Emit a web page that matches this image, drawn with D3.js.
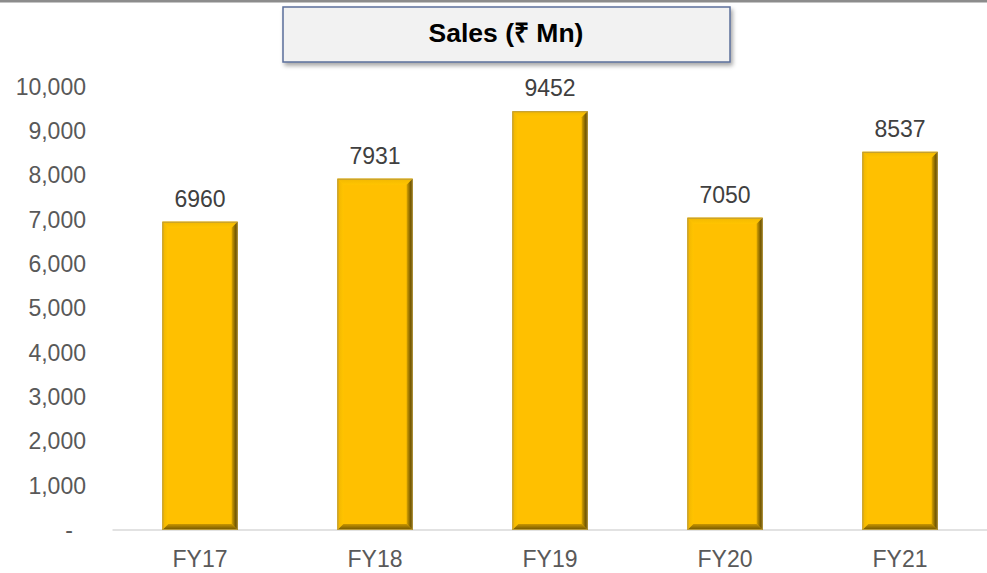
<!DOCTYPE html>
<html>
<head>
<meta charset="utf-8">
<script src="https://cdn.jsdelivr.net/npm/d3@7"></script>
<style>
  html, body { margin: 0; padding: 0; background: #ffffff; }
  svg { display: block; }
</style>
</head>
<body>
<svg id="chart" width="987" height="573"></svg>
<script>
// Annual sales, ₹ million
const categories = ["FY17", "FY18", "FY19", "FY20", "FY21"];
const sales = [6960, 7931, 9452, 7050, 8537];
const yTicks = [0, 1000, 2000, 3000, 4000, 5000, 6000, 7000, 8000, 9000, 10000];
const title = "Sales (₹ Mn)";

const svg = d3.select("#chart");
const W = 987, H = 573;
const plot = { left: 112.5, right: 987.5, top: 87, bottom: 530 };
const FONT = "Liberation Sans, Arial, sans-serif";

const x = d3.scaleBand()
  .domain(categories)
  .range([plot.left, plot.right])
  .paddingInner(0.57)
  .paddingOuter(0.285);

const y = d3.scaleLinear().domain([0, 10000]).range([plot.bottom, plot.top]);

const defs = svg.append("defs");
const grad = (id, x2, y2, stops) => {
  const g = defs.append("linearGradient").attr("id", id)
    .attr("x1", 0).attr("y1", 0).attr("x2", x2).attr("y2", y2);
  stops.forEach(([o, c]) => g.append("stop").attr("offset", o).attr("stop-color", c));
};
grad("bevRight", 1, 0, [[0, "#d9a400"], [0.5, "#8c6a00"], [1, "#4d3b00"]]);
grad("bevBottom", 0, 1, [[0, "#c99600"], [1, "#6e5300"]]);
grad("bevLeft", 1, 0, [[0, "#f0b400"], [1, "#ffc400"]]);
grad("bevTop", 0, 1, [[0, "#f2b800"], [1, "#ffc400"]]);

const shadow = defs.append("filter").attr("id", "boxShadow")
  .attr("x", "-5%").attr("y", "-20%").attr("width", "112%").attr("height", "150%");
shadow.append("feDropShadow").attr("dx", 2).attr("dy", 3).attr("stdDeviation", 2)
  .attr("flood-color", "#000").attr("flood-opacity", 0.35);

// top rule
svg.append("rect").attr("x", 0).attr("y", 0).attr("width", W).attr("height", 2.5)
  .attr("fill", "#8c8c8c");

// title box
svg.append("rect").attr("x", 283).attr("y", 7).attr("width", 447).attr("height", 55)
  .attr("fill", "#f2f2f2").attr("stroke", "#5b6f9a").attr("stroke-width", 1.5)
  .attr("filter", "url(#boxShadow)");
svg.append("text").attr("x", 506).attr("y", 42)
  .attr("text-anchor", "middle")
  .attr("font-family", FONT)
  .attr("font-weight", "bold").attr("font-size", 26.5).attr("fill", "#000")
  .text(title);

// y axis labels
const yAxis = d3.axisLeft(y).tickValues(yTicks)
  .tickFormat(d => d === 0 ? "-" : d3.format(",")(d)).tickSize(0).tickPadding(0);
const yg = svg.append("g").attr("transform", "translate(86,0)").call(yAxis);
yg.select(".domain").remove();
yg.selectAll("text")
  .attr("font-family", FONT)
  .attr("font-size", 23).attr("fill", "#595959");
yg.selectAll(".tick").filter(d => d === 0).select("text")
  .attr("text-anchor", "middle").attr("x", -17);

// x axis
const xAxis = d3.axisBottom(x).tickSize(0).tickPadding(0);
const xg = svg.append("g").attr("transform", `translate(0,${plot.bottom})`).call(xAxis);
xg.select(".domain").attr("stroke", "#d9d9d9").attr("stroke-width", 1.5)
  .attr("d", `M${plot.left},0H${W}`);
xg.selectAll("text")
  .attr("font-family", FONT)
  .attr("font-size", 23).attr("fill", "#595959")
  .attr("y", 37).attr("dy", 0);

// bars with bevelled edges
const b = 6;
const bars = svg.append("g").selectAll("g").data(categories.map((c, i) => ({ c, v: sales[i] })))
  .join("g")
  .attr("transform", d => `translate(${x(d.c)},${y(d.v)})`);

bars.each(function (d) {
  const g = d3.select(this);
  const w = x.bandwidth();
  const h = plot.bottom - y(d.v);
  g.append("rect").attr("width", w).attr("height", h).attr("fill", "#ffc000");
  g.append("polygon").attr("points", `0,0 ${w},0 ${w - b},${b} ${b},${b}`).attr("fill", "url(#bevTop)");
  g.append("polygon").attr("points", `0,0 ${b},${b} ${b},${h - b} 0,${h}`).attr("fill", "url(#bevLeft)");
  g.append("polygon").attr("points", `${w},0 ${w},${h} ${w - b},${h - b} ${w - b},${b}`).attr("fill", "url(#bevRight)");
  g.append("polygon").attr("points", `0,${h} ${w},${h} ${w - b},${h - b} ${b},${h - b}`).attr("fill", "url(#bevBottom)");
  g.append("rect").attr("x", 0.5).attr("y", 0.5).attr("width", w - 1).attr("height", h - 1)
    .attr("fill", "none").attr("stroke", "#b89a3e").attr("stroke-width", 1);
});

// value labels
svg.append("g").selectAll("text").data(categories.map((c, i) => ({ c, v: sales[i] })))
  .join("text")
  .attr("x", d => x(d.c) + x.bandwidth() / 2)
  .attr("y", d => y(d.v) - 15)
  .attr("text-anchor", "middle")
  .attr("font-family", FONT)
  .attr("font-size", 23).attr("fill", "#404040")
  .text(d => d.v);
</script>
</body>
</html>
